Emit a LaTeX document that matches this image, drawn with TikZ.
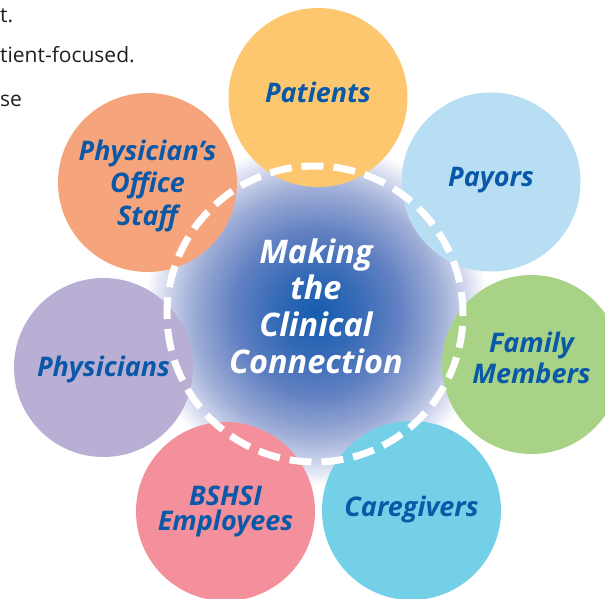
\documentclass[tikz,border=0pt]{standalone}
\usepackage{fontspec}
\setmainfont{Open Sans}
\usetikzlibrary{positioning, shapes.geometric}

\definecolor{labelblue}{HTML}{0A58A8}
\definecolor{pagegray}{HTML}{231F20}
\definecolor{patientfill}{HTML}{FCC76E}
\definecolor{payorfill}{HTML}{B8DEF3}
\definecolor{familyfill}{HTML}{A8D386}
\definecolor{carefill}{HTML}{74D0E7}
\definecolor{staffill}{HTML}{F4909B}
\definecolor{physfill}{HTML}{B9AED3}
\definecolor{officefill}{HTML}{F5A47C}
\definecolor{hubcore}{HTML}{155DAE}
\definecolor{hubinner}{HTML}{356AB6}
\definecolor{hubmid}{HTML}{6281C2}
\definecolor{hubpale}{HTML}{9DADD6}
\definecolor{hubedge}{HTML}{D2D8EE}

\pgfdeclareradialshading{hubglow}{\pgfpoint{0bp}{0bp}}{%
  color(0bp)=(hubcore); color(6bp)=(hubinner); color(12bp)=(hubmid);
  color(18bp)=(hubpale); color(22bp)=(hubedge); color(25bp)=(white);
  color(50bp)=(white)}

\tikzset{
    spoke/.style={circle, minimum size=179pt, inner sep=0pt},
    tag/.style={inner sep=0pt, align=center, text=labelblue,
        font=\bfseries\itshape\fontsize{27}{32.5}\selectfont},
    hub/.style={circle, minimum size=344pt, inner sep=0pt, shading=hubglow},
    hubtag/.style={inner sep=0pt, align=center, text=white,
        font=\bfseries\itshape\fontsize{32.5}{36.7}\selectfont},
    ring/.style={circle, minimum size=296pt, inner sep=0pt, draw=white,
        line width=7pt, dash pattern=on 22pt off 10pt},
    margin/.style={anchor=base west, inner sep=0pt, text=pagegray,
        font=\fontsize{21}{25}\selectfont}
}

\begin{document}
\begin{tikzpicture}[x=1pt, y=1pt]
\useasboundingbox (-318,-282) rectangle (287,316);

% Text of the page
\node[margin] (line1) at (-318,294) {t.};
\node[margin] (line2) at (-318,254) {tient-focused.};
\node[margin] (line3) at (-318,210) {se};

% Hub
\node[hub, label={[hubtag, yshift=7pt]center:Making\\the\\Clinical\\Connection}] (hub) at (-2,3) {};

% Circles round the hub
\node[spoke, fill=patientfill, label={[tag, yshift=5.5pt]center:Patients}] (patients) at (0,218.5) {};
\node[spoke, fill=payorfill, label={[tag, yshift=2pt]center:Payors}] (payors) at (173,134) {};
\node[spoke, fill=familyfill, label={[tag, yshift=7pt,
    font=\bfseries\itshape\fontsize{27}{31}\selectfont]center:Family\\Members}] (family) at (213.5,-48.5) {};
\node[spoke, fill=carefill, label={[tag, yshift=1.5pt]center:Caregivers}] (caregivers) at (93.5,-194.5) {};
\node[spoke, fill=staffill, label={[tag,
    font=\bfseries\itshape\fontsize{27}{25}\selectfont]center:BSHSI\\Employees}] (employees) at (-92.5,-195.5) {};
\node[spoke, fill=physfill, label={[tag, yshift=-2pt]center:Physicians}] (physicians) at (-214.5,-51.5) {};
\node[spoke, fill=officefill, label={[tag, yshift=-3pt]center:Physician’s\\Office\\Staff}] (office) at (-170.5,133.5) {};

% Dashed ring
\node[ring] (ring) at (-3,2) {};

\end{tikzpicture}
\end{document}
